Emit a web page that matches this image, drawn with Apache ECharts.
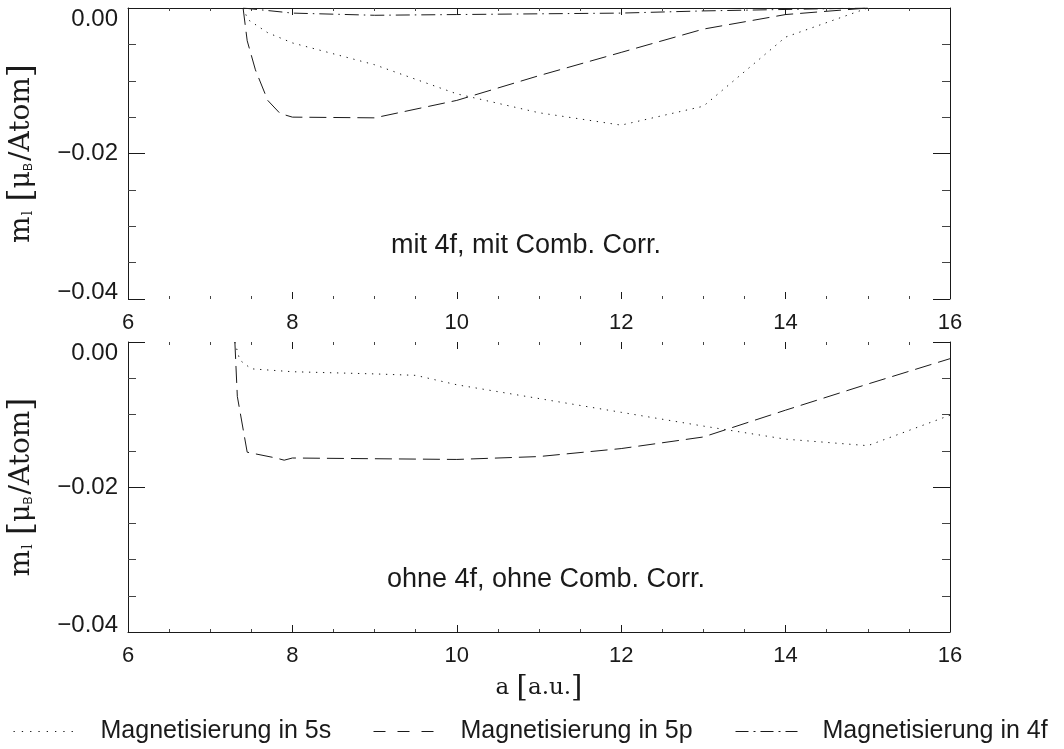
<!DOCTYPE html>
<html>
<head>
<meta charset="utf-8">
<script src="https://cdn.jsdelivr.net/npm/echarts@6/dist/echarts.min.js"></script>
<style>
  html, body { margin: 0; padding: 0; background: #fff; }
  #chart { width: 1064px; height: 749px; }
</style>
</head>
<body>
<div id="chart"></div>
<script>
// Orbital moment m_l [mu_B/Atom] versus lattice parameter a [a.u.]

// Upper panel: mit 4f, mit Comb. Corr.
const aTop5s = [7.4, 7.46, 7.7, 8.0, 9.0, 10.0, 11.0, 12.0, 13.0, 14.0, 15.0];
const mTop5s = [0.0, -0.0016, -0.0034, -0.0048, -0.0078, -0.0118, -0.0144, -0.0161, -0.0135, -0.0040, 0.0];
const aTop5p = [7.4, 7.45, 7.55, 7.7, 7.85, 8.0, 9.0, 10.0, 11.0, 12.0, 13.0, 14.0, 15.0];
const mTop5p = [0.0, -0.0045, -0.0085, -0.0127, -0.0145, -0.0150, -0.0151, -0.0127, -0.0093, -0.0061, -0.0029, -0.0009, 0.0];
const aTop4f = [7.4, 8.0, 9.0, 10.0, 11.0, 12.0, 13.0, 14.0, 15.0];
const mTop4f = [0.0, -0.0007, -0.0010, -0.0009, -0.0008, -0.0007, -0.0004, -0.0002, 0.0];

// Lower panel: ohne 4f, ohne Comb. Corr.
const aBot5s = [7.3, 7.36, 7.5, 8.0, 9.0, 9.5, 10.0, 11.0, 12.0, 13.0, 14.0, 15.0, 16.0];
const mBot5s = [0.0, -0.0025, -0.0037, -0.0041, -0.0044, -0.0046, -0.0059, -0.0078, -0.0097, -0.0116, -0.0134, -0.0143, -0.0101];
const aBot5p = [7.3, 7.33, 7.45, 7.8, 7.9, 8.0, 9.0, 10.0, 11.0, 12.0, 13.0, 14.0, 15.0, 16.0];
const mBot5p = [0.0, -0.0075, -0.0152, -0.0160, -0.0163, -0.0160, -0.0161, -0.0162, -0.0158, -0.0147, -0.0131, -0.0094, -0.0058, -0.0023];

// Axis ranges and tick steps
const X_MIN = 6, X_MAX = 16, X_STEP = 2;
const Y_MIN = -0.04, Y_MAX = 0, Y_STEP = 0.02;

const panelTexts = ['mit 4f, mit Comb. Corr.', 'ohne 4f, ohne Comb. Corr.'];
const N5S = 'Magnetisierung in 5s';
const N5P = 'Magnetisierung in 5p';
const N4F = 'Magnetisierung in 4f';

const INK = '#1a1a1a';
const CLEAR = 'rgba(0,0,0,0)';
const SANS = '"Liberation Sans", Arial, Helvetica, sans-serif';
const SERIF = '"DejaVu Serif", "Liberation Serif", serif';
const DOT = [1.3, 5.7];
const DASH = [17, 7];
const DASHDOT = [14, 5, 1.5, 5];

const pair = (xs, ys) => xs.map((x, i) => [x, ys[i]]);

function yLabel(v) {
  const s = (v < -1e-9 ? '\u2212' : '') + Math.abs(v).toFixed(2);
  if (Math.abs(v - Y_MAX) < 1e-9) return '{hi|' + s + '}';
  if (Math.abs(v - Y_MIN) < 1e-9) return '{lo|' + s + '}';
  return '{md|' + s + '}';
}

const labelFont = { fontFamily: SANS, fontSize: 24, color: INK };

function xAxisDef(gridIndex, position, showLine, showLabels, withName) {
  const ax = {
    type: 'value', gridIndex, position,
    min: X_MIN, max: X_MAX, interval: X_STEP,
    axisLine: { show: showLine, onZero: false, lineStyle: { color: INK, width: 1 } },
    axisTick: { show: true, inside: true, length: 7, lineStyle: { color: INK, width: 1 } },
    minorTick: { show: true, splitNumber: 4, length: 3, lineStyle: { color: '#444', width: 1 } },
    splitLine: { show: false },
    minorSplitLine: { show: false },
    axisLabel: { show: showLabels, margin: 13, fontFamily: SANS, fontSize: 22, color: INK }
  };
  if (withName) {
    ax.name = '{t|a }{b|[}{t|a.u.}{b|]}';
    ax.nameLocation = 'middle';
    ax.nameGap = 42;
    ax.nameTextStyle = {
      rich: {
        t: { fontFamily: SERIF, fontSize: 23, color: INK },
        b: { fontFamily: SERIF, fontSize: 29, color: INK }
      }
    };
  }
  return ax;
}

function yAxisDef(gridIndex, position, showLabels) {
  const ax = {
    type: 'value', gridIndex, position,
    min: Y_MIN, max: Y_MAX, interval: Y_STEP,
    axisLine: { show: true, onZero: false, lineStyle: { color: INK, width: 1 } },
    axisTick: { show: true, inside: true, length: 17, lineStyle: { color: INK, width: 1 } },
    minorTick: { show: true, splitNumber: 4, length: 8, lineStyle: { color: '#444', width: 1 } },
    splitLine: { show: false },
    minorSplitLine: { show: false },
    axisLabel: {
      show: showLabels, margin: 10,
      formatter: yLabel,
      rich: {
        hi: Object.assign({ padding: [22, 0, 0, 0] }, labelFont),
        lo: Object.assign({ padding: [0, 0, 14, 0] }, labelFont),
        md: Object.assign({}, labelFont)
      }
    }
  };
  if (showLabels) {
    ax.name = '{n|m}{s|l}{n| }{b|[}{g|\u03bc}{sb|B}{n|/Atom}{b|]}';
    ax.nameLocation = 'middle';
    ax.nameRotate = 90;
    ax.nameGap = 89;
    ax.nameTextStyle = {
      rich: {
        n: { fontFamily: SERIF, fontSize: 28, color: INK },
        g: { fontFamily: SERIF, fontSize: 27, color: INK },
        s: { fontFamily: SERIF, fontSize: 15, color: INK, padding: [13, 0, 0, 1] },
        sb: { fontFamily: SANS, fontSize: 12, color: INK, padding: [13, 2, 0, 0] },
        b: { fontFamily: SERIF, fontSize: 34, color: INK }
      }
    };
  }
  return ax;
}

function lineSeries(name, xi, yi, xs, ys, dash) {
  return {
    name, type: 'line', xAxisIndex: xi, yAxisIndex: yi,
    data: pair(xs, ys),
    symbol: 'none', showSymbol: false,
    color: INK,
    lineStyle: { color: INK, width: 1, type: dash, cap: 'butt' },
    animation: false
  };
}

function legendDef(name, left, dash) {
  return {
    data: [name], left, top: 714,
    itemWidth: 62, itemHeight: 20,
    selectedMode: false,
    itemStyle: { color: CLEAR, borderColor: CLEAR, borderWidth: 0, opacity: 0 },
    lineStyle: { type: dash, width: 1, color: INK, opacity: 1 },
    textStyle: { fontFamily: SANS, fontSize: 25, color: INK, padding: [0, 0, 0, 20] }
  };
}

const chart = echarts.init(document.getElementById('chart'), null, { renderer: 'canvas' });
chart.setOption({
  backgroundColor: '#ffffff',
  animation: false,
  grid: [
    { left: 128, top: 8, width: 822, height: 291, containLabel: false, outerBoundsMode: 'none' },
    { left: 128, top: 342, width: 822, height: 290, containLabel: false, outerBoundsMode: 'none' }
  ],
  xAxis: [
    xAxisDef(0, 'bottom', false, true, false),
    xAxisDef(0, 'top', true, false, false),
    xAxisDef(1, 'bottom', true, true, true),
    xAxisDef(1, 'top', false, false, false)
  ],
  yAxis: [
    yAxisDef(0, 'left', true),
    yAxisDef(0, 'right', false),
    yAxisDef(1, 'left', true),
    yAxisDef(1, 'right', false)
  ],
  legend: [
    legendDef(N5S, 8, [1.3, 7]),
    legendDef(N5P, 368, [12, 12]),
    legendDef(N4F, 730, [13, 5, 2, 5])
  ],
  graphic: [
    { type: 'text', x: 526, y: 246, z: 10,
      style: { text: panelTexts[0], fontFamily: SANS, fontSize: 27, fill: INK,
               align: 'center', verticalAlign: 'middle', textAlign: 'center', textVerticalAlign: 'middle' } },
    { type: 'text', x: 546, y: 580, z: 10,
      style: { text: panelTexts[1], fontFamily: SANS, fontSize: 27, fill: INK,
               align: 'center', verticalAlign: 'middle', textAlign: 'center', textVerticalAlign: 'middle' } }
  ],
  series: [
    lineSeries(N5S, 0, 0, aTop5s, mTop5s, DOT),
    lineSeries(N5P, 0, 0, aTop5p, mTop5p, DASH),
    lineSeries(N4F, 0, 0, aTop4f, mTop4f, DASHDOT),
    lineSeries(N5S, 2, 2, aBot5s, mBot5s, DOT),
    lineSeries(N5P, 2, 2, aBot5p, mBot5p, DASH)
  ]
});
</script>
</body>
</html>
